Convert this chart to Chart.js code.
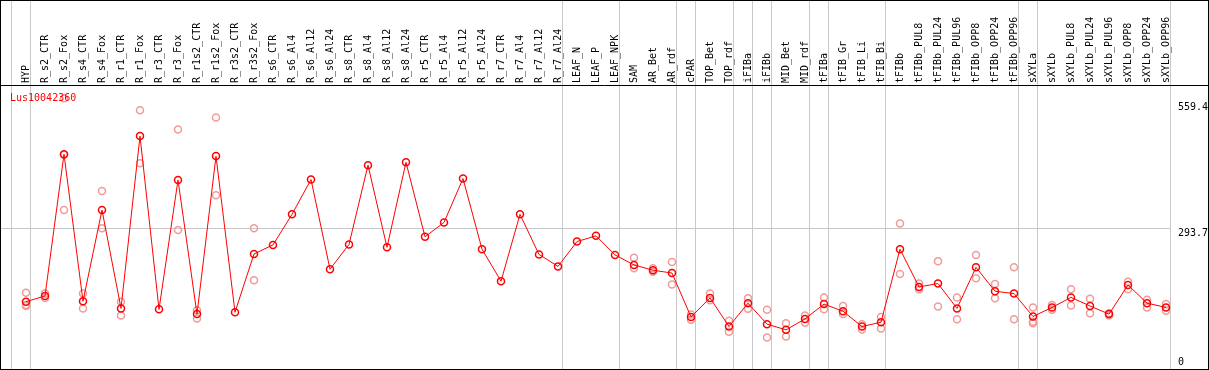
<!DOCTYPE html>
<html><head><meta charset="utf-8">
<script src="https://cdn.jsdelivr.net/npm/chart.js@4"></script>
<style>html,body{margin:0;padding:0;background:#fff;overflow:hidden}canvas{display:block}</style>
</head><body>
<canvas id="c" width="1209" height="370"></canvas>
<script>
const seriesName = 'Lus10042360';
const categories = ['HYP','R_s2_CTR','R_s2_Fox','R_s4_CTR','R_s4_Fox','R_r1_CTR','R_r1_Fox','R_r3_CTR','R_r3_Fox','R_r1s2_CTR','R_r1s2_Fox','R_r3s2_CTR','R_r3s2_Fox','R_s6_CTR','R_s6_Al4','R_s6_Al12','R_s6_Al24','R_s8_CTR','R_s8_Al4','R_s8_Al12','R_s8_Al24','R_r5_CTR','R_r5_Al4','R_r5_Al12','R_r5_Al24','R_r7_CTR','R_r7_Al4','R_r7_Al12','R_r7_Al24','LEAF_N','LEAF_P','LEAF_NPK','SAM','AR_Bet','AR_rdf','cPAR','TOP_Bet','TOP_rdf','iFIBa','iFIBb','MID_Bet','MID_rdf','tFIBa','tFIB_Gr','tFIB_Li','tFIB_Bi','tFIBb','tFIBb_PUL8','tFIBb_PUL24','tFIBb_PUL96','tFIBb_OPP8','tFIBb_OPP24','tFIBb_OPP96','sXYLa','sXYLb','sXYLb_PUL8','sXYLb_PUL24','sXYLb_PUL96','sXYLb_OPP8','sXYLb_OPP24','sXYLb_OPP96'];
const meanValues = [139,151,448,140,331,125,486,123,394,113,444,117,239,258,322,395,207,259,425,253,431,275,305,397,249,182,322,238,213,265,277,237,216,205,199,107,147,87,136,92,80,103,134,119,87,96,249,170,177,125,211,161,156,108,127,148,130,113,174,136,127];
const rep1 = [158,156,565,156,371,139,540,null,500,121,525,null,293,null,null,null,null,null,null,null,null,null,null,null,null,null,null,null,null,null,null,null,231,209,222,112,156,99,146,122,94,110,148,130,92,107,303,177,224,148,237,176,211,127,132,165,145,115,181,143,134];
const rep2 = [132,147,331,125,293,110,429,null,289,104,362,null,184,null,null,null,null,null,null,null,null,null,null,null,null,null,null,null,null,null,null,null,209,202,175,101,142,76,124,64,66,95,123,113,81,83,197,165,129,102,188,146,102,97,122,131,115,110,165,127,120];
const rep3 = [130,null,447,null,null,null,null,null,null,null,null,null,null,null,null,null,null,null,null,null,null,null,null,null,null,null,null,null,null,null,null,null,null,null,null,null,null,null,null,null,null,null,null,null,null,null,null,null,null,null,null,null,null,94,null,null,null,null,null,null,null];
const yTickValues = [0, 293.7, 559.4];
const yGridValues = [293.7];
const groupEnds = [-1, 0, 28, 31, 34, 35, 37, 38, 39, 41, 42, 45, 52, 53, 60];

Chart.defaults.font.family = "'DejaVu Sans Mono', monospace";
Chart.defaults.font.size = 10;
Chart.defaults.color = '#000';

const framePlugin = {
  id: 'frame',
  beforeDraw(chart) {
    const {ctx, chartArea, scales: {x, y}} = chart;
    const W = chart.width;
    const step = x.getPixelForValue(1) - x.getPixelForValue(0);
    ctx.save();
    ctx.fillStyle = '#fff';
    ctx.fillRect(0, 0, W, chart.height);
    ctx.strokeStyle = '#c8c8c8';
    ctx.lineWidth = 1;
    let lastX = 0;
    groupEnds.forEach(i => {
      const px = Math.floor(x.getPixelForValue(0) + i * step + step * 0.24) + 0.5;
      lastX = px;
      ctx.beginPath(); ctx.moveTo(px, 0); ctx.lineTo(px, chartArea.bottom); ctx.stroke();
    });
    yGridValues.forEach(v => {
      const py = Math.round(y.getPixelForValue(v)) + 0.5;
      ctx.beginPath(); ctx.moveTo(0, py); ctx.lineTo(lastX, py); ctx.stroke();
    });
    ctx.strokeStyle = '#000';
    ctx.strokeRect(0.5, 0.5, W - 1, chartArea.bottom);
    ctx.beginPath(); ctx.moveTo(0, chartArea.top + 0.5); ctx.lineTo(W, chartArea.top + 0.5); ctx.stroke();
    ctx.restore();
  },
  afterDraw(chart) {
    const {ctx, chartArea} = chart;
    ctx.save();
    ctx.fillStyle = '#ff0000';
    ctx.font = "10px 'DejaVu Sans Mono', monospace";
    ctx.textBaseline = 'alphabetic';
    ctx.fillText(seriesName, 10, chartArea.top + 16);
    ctx.restore();
  }
};

const repStyle = {
  showLine: false,
  pointRadius: 3.5,
  pointBorderWidth: 1.5,
  pointBorderColor: '#f09a9a',
  pointBackgroundColor: 'rgba(0,0,0,0)',
  borderColor: '#f09a9a',
  order: 1
};

new Chart(document.getElementById('c'), {
  type: 'line',
  data: {
    labels: categories,
    datasets: [
      Object.assign({ label: 'rep1', data: rep1 }, repStyle),
      Object.assign({ label: 'rep2', data: rep2 }, repStyle),
      Object.assign({ label: 'rep3', data: rep3 }, repStyle),
      {
        label: seriesName,
        data: meanValues,
        borderColor: '#ff0000',
        borderWidth: 1,
        pointRadius: 3.5,
        pointBorderWidth: 1.5,
        pointBorderColor: '#ff0000',
        pointBackgroundColor: 'rgba(0,0,0,0)',
        tension: 0,
        order: 0
      }
    ]
  },
  options: {
    responsive: false,
    animation: false,
    layout: { autoPadding: false, padding: { left: 26, right: 0, top: 0, bottom: 1 } },
    plugins: { legend: { display: false }, tooltip: { enabled: false }, title: { display: false } },
    scales: {
      x: {
        position: 'top',
        offset: false,
        grid: { display: false, drawTicks: false },
        border: { display: false },
        ticks: { autoSkip: false, minRotation: 90, maxRotation: 90, padding: 2, labelOffset: 12, color: '#000' },
        afterFit(axis) { axis.height = 85; axis.paddingLeft = 0; axis.paddingRight = 0; }
      },
      y: {
        position: 'right',
        min: -2,
        max: 593,
        grid: { display: false, drawTicks: false },
        border: { display: false },
        afterBuildTicks(axis) { axis.ticks = yTickValues.map(v => ({ value: v })); },
        afterFit(axis) { axis.width = 43; axis.paddingTop = 0; axis.paddingBottom = 0; },
        ticks: {
          padding: 12,
          color: '#000',
          font: { lineHeight: 1.2 },
          callback: v => v === 0 ? [String(v), ''] : ['', String(v)]
        }
      }
    }
  },
  plugins: [framePlugin]
});
</script>
</body></html>
